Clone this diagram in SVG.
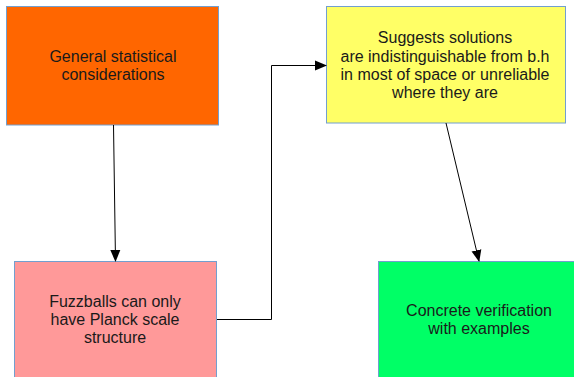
<svg xmlns="http://www.w3.org/2000/svg" width="574" height="377" viewBox="0 0 574 377">
<defs>
<style>
.box{stroke:#729fcf;stroke-width:1}
.t{font-family:"Liberation Sans",Arial,sans-serif;font-size:16px;fill:#1a1a1a;text-anchor:middle}
.c{fill:none;stroke:#000;stroke-width:1}
</style>
<marker id="ah" markerWidth="12" markerHeight="12" refX="11" refY="5" orient="auto" markerUnits="userSpaceOnUse" viewBox="0 0 12 10">
<path d="M0,0 L12,5 L0,10 Z" fill="#000"/>
</marker>
</defs>
<rect width="574" height="377" fill="#fff"/>
<g id="n1">
<rect class="box" x="6.5" y="6.5" width="212" height="118.5" fill="#ff6600"/>
<text class="t" x="113" y="62">General statistical</text>
<text class="t" x="113" y="80">considerations</text>
</g>
<g id="n2">
<rect class="box" x="326.5" y="6.5" width="239" height="116.5" fill="#ffff66"/>
<text class="t" x="445" y="43">Suggests solutions</text>
<text class="t" x="445" y="62">are indistinguishable from b.h</text>
<text class="t" x="445" y="80">in most of space or unreliable</text>
<text class="t" x="445" y="98">where they are</text>
</g>
<g id="n3">
<rect class="box" x="14.5" y="261.5" width="202" height="120" fill="#ff9999"/>
<text class="t" x="115" y="307">Fuzzballs can only</text>
<text class="t" x="115" y="325">have Planck scale</text>
<text class="t" x="115" y="343">structure</text>
</g>
<g id="n4">
<rect class="box" x="378.5" y="261.5" width="200" height="120" fill="#00ff66"/>
<text class="t" x="479" y="316">Concrete verification</text>
<text class="t" x="479" y="334">with examples</text>
</g>
<g id="connectors">
<path class="c" d="M113.5,125 L115.5,261" marker-end="url(#ah)"/>
<path class="c" d="M217,319.5 H271.5 V65.5 H326" marker-end="url(#ah)"/>
<path class="c" d="M446,123 L479,261" marker-end="url(#ah)"/>
</g>
</svg>
